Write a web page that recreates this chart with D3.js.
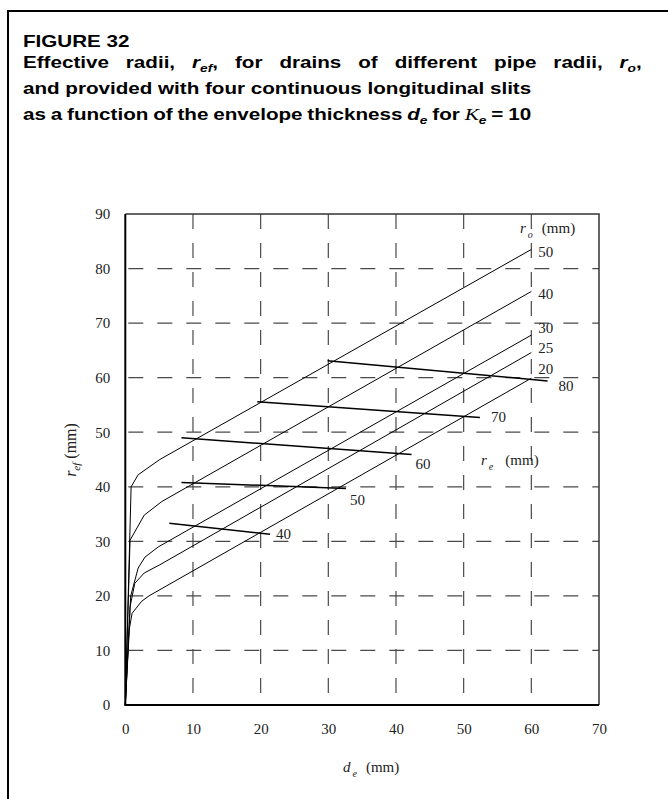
<!DOCTYPE html>
<html lang="en">
<head>
<meta charset="UTF-8">
<title>Figure 32</title>
<script src="https://cdn.jsdelivr.net/npm/d3@7"></script>
<style>
  body { margin: 0; background: #fff; }
  svg { display: block; }
</style>
</head>
<body>
<script>
    // r_ef versus d_e for each pipe radius r_o  ([d_e, r_ef] in mm)
    var roLabels = [20, 25, 30, 40, 50];
    var ro20 = [[0, 0], [0.6, 14], [1.0, 16.8], [2.4, 19.0], [3.5, 20.0], [60, 59.9]];
    var ro25 = [[0, 0], [0.7, 18], [1.4, 22.3], [2.8, 24.2], [5.1, 25.7], [60, 64.6]];
    var ro30 = [[0, 0], [0.8, 20], [1.9, 25.1], [2.9, 27.1], [4.9, 29.0], [60, 67.8]];
    var ro40 = [[0, 0], [0.7, 30.2], [2.8, 34.8], [5.4, 37.3], [60, 75.8]];
    var ro50 = [[0, 0], [0.86, 40], [1.9, 42.2], [5.1, 45.0], [60, 83.5]];

    // lines of equal envelope radius r_e
    var reLabels = [40, 50, 60, 70, 80];
    var re40 = [[6.5, 33.3], [21.4, 31.3]];
    var re50 = [[8.3, 40.8], [32.6, 39.7]];
    var re60 = [[8.3, 49.0], [42.3, 45.9]];
    var re70 = [[19.5, 55.6], [52.4, 52.7]];
    var re80 = [[29.9, 63.1], [62.4, 59.4]];

    var xTicks = [0, 10, 20, 30, 40, 50, 60, 70];
    var yTicks = [0, 10, 20, 30, 40, 50, 60, 70, 80, 90];

    var roCurves = [ro20, ro25, ro30, ro40, ro50];
    var reLines = [re40, re50, re60, re70, re80];

    // label nudges (px) for the end of each line
    var roLabelDy = [-4, 0, -2, 8, 8];
    var reLabelShift = [[6, 5], [4, 17], [4, 14], [11, 5], [11, 10]];

    var w = 668, h = 799;
    var pL = 125.3, pR = 599, pT = 214, pB = 705;

    var svg = d3.select("body").append("svg")
        .attr("width", w)
        .attr("height", h);

    // outer frame, runs off the right and bottom edges
    svg.append("rect")
        .attr("x", 8).attr("y", 11)
        .attr("width", 720).attr("height", 820)
        .attr("fill", "none")
        .attr("stroke", "#000")
        .attr("stroke-width", 2);

    // title
    var title = svg.append("g")
        .attr("transform", "translate(23,0) scale(1.25,1)")
        .attr("font-family", "'Liberation Sans', Arial, sans-serif")
        .attr("font-weight", "bold")
        .attr("font-size", "16.5px")
        .attr("fill", "#000");

    title.append("text").attr("x", 0).attr("y", 47).text("FIGURE 32");

    var t2 = title.append("text").attr("x", 0).attr("y", 68.5)
        .attr("word-spacing", "9px");
    t2.append("tspan").text("Effective radii, ");
    t2.append("tspan").attr("font-style", "italic").text("r");
    t2.append("tspan").attr("font-style", "italic").attr("font-size", "11px").attr("dy", 4).text("ef");
    t2.append("tspan").attr("dy", -4).text(", for drains of different pipe radii, ");
    t2.append("tspan").attr("font-style", "italic").text("r");
    t2.append("tspan").attr("font-style", "italic").attr("font-size", "11px").attr("dy", 4).text("o");
    t2.append("tspan").attr("dy", -4).text(",");

    title.append("text").attr("x", 0).attr("y", 94)
        .text("and provided with four continuous longitudinal slits");

    var t4 = title.append("text").attr("x", 0).attr("y", 120)
        .attr("word-spacing", "-0.7px");
    t4.append("tspan").text("as a function of the envelope thickness ");
    t4.append("tspan").attr("font-style", "italic").text("d");
    t4.append("tspan").attr("font-style", "italic").attr("font-size", "11px").attr("dy", 4).text("e");
    t4.append("tspan").attr("dy", -4).text(" for ");
    t4.append("tspan").attr("font-family", "'Liberation Serif', serif").attr("font-weight", "normal")
        .attr("font-style", "italic").attr("font-size", "17px").text("K");
    t4.append("tspan").attr("font-style", "italic").attr("font-size", "11px").attr("dy", 4).text("e");
    t4.append("tspan").attr("dy", -4).text(" = 10");

    // scales
    var x = d3.scaleLinear().domain([0, 70]).range([pL, pR]);
    var y = d3.scaleLinear().domain([0, 90]).range([pB, pT]);

    // dashed grid
    var grid = svg.append("g")
        .attr("stroke", "#4a4a4a")
        .attr("stroke-width", 1.2)
        .attr("stroke-dasharray", "15,14");

    grid.selectAll(".gx")
        .data(xTicks.filter(function (d) { return d > 0 && d < 70; }))
        .enter().append("line")
        .attr("x1", function (d) { return x(d); })
        .attr("x2", function (d) { return x(d); })
        .attr("y1", pT).attr("y2", pB);

    grid.selectAll(".gy")
        .data(yTicks.filter(function (d) { return d > 0 && d < 90; }))
        .enter().append("line")
        .attr("x1", pL).attr("x2", pR)
        .attr("y1", function (d) { return y(d); })
        .attr("y2", function (d) { return y(d); })
        .attr("stroke-dashoffset", -3);

    // top and right border of the plot
    svg.append("path")
        .attr("d", "M" + pL + "," + pT + "H" + pR + "V" + pB)
        .attr("fill", "none")
        .attr("stroke", "#333")
        .attr("stroke-width", 1.5);

    // tick labels
    var xAxis = svg.append("g")
        .attr("transform", "translate(0," + pB + ")")
        .call(d3.axisBottom(x).tickValues(xTicks).tickSize(0).tickPadding(18));
    var yAxis = svg.append("g")
        .attr("transform", "translate(" + pL + ",0)")
        .call(d3.axisLeft(y).tickValues(yTicks).tickSize(0).tickPadding(15));

    [xAxis, yAxis].forEach(function (a) {
        a.select(".domain").remove();
        a.selectAll("text")
            .attr("font-family", "'Liberation Serif', 'Times New Roman', serif")
            .attr("font-size", "15px")
            .attr("fill", "#222");
    });

    // curves
    var line = d3.line()
        .x(function (d) { return x(d[0]); })
        .y(function (d) { return y(d[1]); });

    svg.selectAll(".ro")
        .data(roCurves)
        .enter().append("path")
        .attr("class", "ro")
        .attr("d", line)
        .attr("fill", "none")
        .attr("stroke", "#000")
        .attr("stroke-width", 1);

    svg.selectAll(".re")
        .data(reLines)
        .enter().append("path")
        .attr("class", "re")
        .attr("d", line)
        .attr("fill", "none")
        .attr("stroke", "#000")
        .attr("stroke-width", 1.5);

    // axes on top
    svg.append("path")
        .attr("d", "M" + pL + "," + pT + "V" + pB + "H" + pR)
        .attr("fill", "none")
        .attr("stroke", "#000")
        .attr("stroke-width", 2);

    // labels
    var serif = "'Liberation Serif', 'Times New Roman', serif";

    svg.selectAll(".rolab")
        .data(roCurves)
        .enter().append("text")
        .attr("x", function (d) { return x(d[d.length - 1][0]) + 7; })
        .attr("y", function (d, i) { return y(d[d.length - 1][1]) + roLabelDy[i]; })
        .attr("font-family", serif)
        .attr("font-size", "15px")
        .attr("fill", "#222")
        .text(function (d, i) { return roLabels[i]; });

    svg.selectAll(".relab")
        .data(reLines)
        .enter().append("text")
        .attr("x", function (d, i) { return x(d[1][0]) + reLabelShift[i][0]; })
        .attr("y", function (d, i) { return y(d[1][1]) + reLabelShift[i][1]; })
        .attr("font-family", serif)
        .attr("font-size", "15px")
        .attr("fill", "#222")
        .text(function (d, i) { return reLabels[i]; });

    function unitLabel(g, xPos, yPos, sym, sub, subDx, unitDx) {
        var t = g.append("text")
            .attr("x", xPos).attr("y", yPos)
            .attr("font-family", serif)
            .attr("font-size", "15px")
            .attr("fill", "#222");
        t.append("tspan").attr("font-style", "italic").text(sym);
        t.append("tspan").attr("font-style", "italic").attr("font-size", "10px")
            .attr("dx", subDx).attr("dy", 5).text(sub);
        t.append("tspan").attr("dx", unitDx).attr("dy", -5).text("(mm)");
        return t;
    }

    unitLabel(svg, 520, 233, "r", "o", 2, 9);
    unitLabel(svg, 481, 465, "r", "e", 2, 12);
    unitLabel(svg, 343, 772, "d", "e", 2, 9);

    var yl = svg.append("g").attr("transform", "translate(76,450) rotate(-90)");
    var ylt = yl.append("text")
        .attr("text-anchor", "middle")
        .attr("font-family", serif)
        .attr("font-size", "16px")
        .attr("fill", "#222");
    ylt.append("tspan").attr("font-style", "italic").text("r");
    ylt.append("tspan").attr("font-style", "italic").attr("font-size", "11px").attr("dy", 4).text("ef");
    ylt.append("tspan").attr("dy", -4).text(" (mm)");
</script>
</body>
</html>
